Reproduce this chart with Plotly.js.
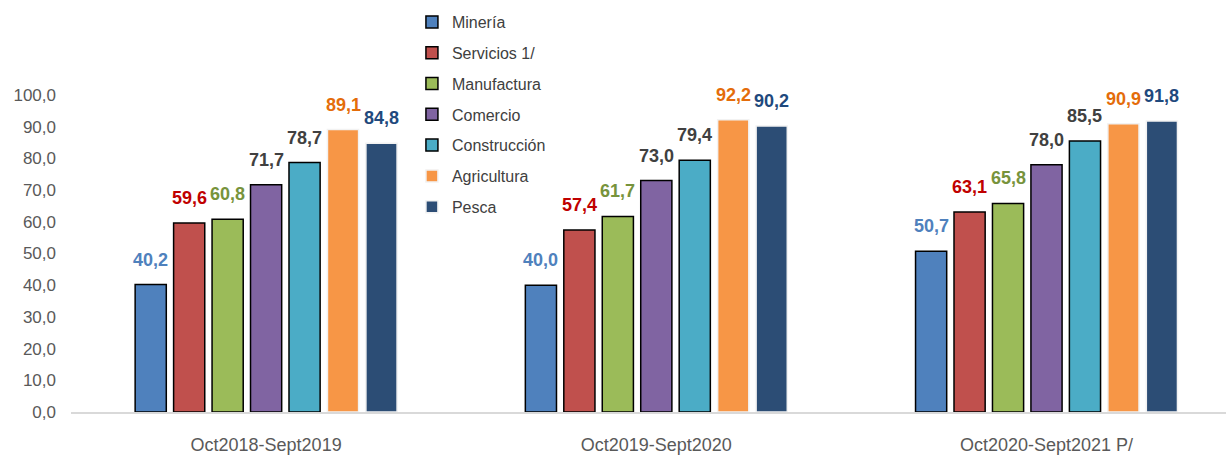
<!DOCTYPE html>
<html>
<head>
<meta charset="utf-8">
<script src="https://cdn.plot.ly/plotly-3.0.1.min.js"></script>
<style>
  html, body { margin: 0; padding: 0; background: #fff; }
  #grafico { width: 1226px; height: 456px; }
</style>
</head>
<body>
<div id="grafico"></div>
<script>
/* periodos */
var periodos = ['Oct2018-Sept2019', 'Oct2019-Sept2020', 'Oct2020-Sept2021 P/'];

/* sectores */
var sectores = ['Minería', 'Servicios 1/', 'Manufactura', 'Comercio', 'Construcción', 'Agricultura', 'Pesca'];

var mineria      = [40.2, 40.0, 50.7];
var servicios    = [59.6, 57.4, 63.1];
var manufactura  = [60.8, 61.7, 65.8];
var comercio     = [71.7, 73.0, 78.0];
var construccion = [78.7, 79.4, 85.5];
var agricultura  = [89.1, 92.2, 90.9];
var pesca        = [84.8, 90.2, 91.8];

var valores = [mineria, servicios, manufactura, comercio, construccion, agricultura, pesca];

var colorBarra = ['#4F81BD', '#C0504D', '#9BBB59', '#8064A2', '#4BACC6', '#F79646', '#2C4D75'];
var colorTexto = ['#4F81BD', '#C00000', '#77933C', '#404040', '#404040', '#E46C0A', '#1F497D'];
var colorBorde = ['#000', '#000', '#000', '#000', '#000', '#F2F2F2', '#F2F2F2'];

var fuente = 'Liberation Sans, Arial, sans-serif';

var bargap = 0.31;
var rango = [-0.5, 2.46];
var anchoPlot = 1226 - 71;
var pxUnidad = anchoPlot / (rango[1] - rango[0]);
var ranura = (1 - bargap) * pxUnidad / sectores.length;

var data = [];
var etiquetas = [];
for (var i = 0; i < sectores.length; i++) {
  data.push({
    type: 'bar',
    name: sectores[i],
    legendgroup: 'g' + i,
    x: periodos,
    y: valores[i],
    marker: {
      color: colorBarra[i],
      line: { color: colorBorde[i], width: 1.5 }
    },
    hoverinfo: 'skip'
  });
  // etiquetas de valor sobre cada barra
  for (var j = 0; j < periodos.length; j++) {
    etiquetas.push({
      x: periodos[j],
      y: valores[i][j],
      text: valores[i][j].toFixed(1).replace('.', ','),
      showarrow: false,
      xanchor: 'center',
      yanchor: 'bottom',
      xshift: (i - (sectores.length - 1) / 2) * ranura,
      yshift: 13,
      font: { family: fuente, size: 18, color: colorTexto[i], weight: 'bold' }
    });
  }
}

var layout = {
  width: 1226,
  height: 456,
  margin: { l: 71, r: 0, t: 95, b: 44, autoexpand: false },
  separators: ',.',
  barmode: 'group',
  bargap: bargap,
  bargroupgap: 0.19,
  plot_bgcolor: '#fff',
  paper_bgcolor: '#fff',
  font: { family: fuente, color: '#595959' },
  showlegend: true,
  legend: {
    xref: 'container', yref: 'container',
    x: 0.336, y: 0.989, xanchor: 'left', yanchor: 'top',
    font: { size: 16, color: '#404040' },
    tracegroupgap: 7,
    bgcolor: 'rgba(0,0,0,0)'
  },
  annotations: etiquetas,
  xaxis: {
    range: rango,
    automargin: false,
    showline: true,
    linecolor: '#D9D9D9',
    linewidth: 1.5,
    ticks: '',
    ticklabelstandoff: 16,
    tickfont: { size: 18, color: '#595959' },
    fixedrange: true
  },
  yaxis: {
    range: [0, 100],
    automargin: false,
    dtick: 10,
    tickformat: '.1f',
    showgrid: false,
    zeroline: false,
    showline: false,
    ticks: '',
    ticklabelstandoff: 14,
    tickfont: { size: 17, color: '#595959' },
    fixedrange: true
  }
};

Plotly.newPlot('grafico', data, layout, { displayModeBar: false, staticPlot: true });
</script>
</body>
</html>
